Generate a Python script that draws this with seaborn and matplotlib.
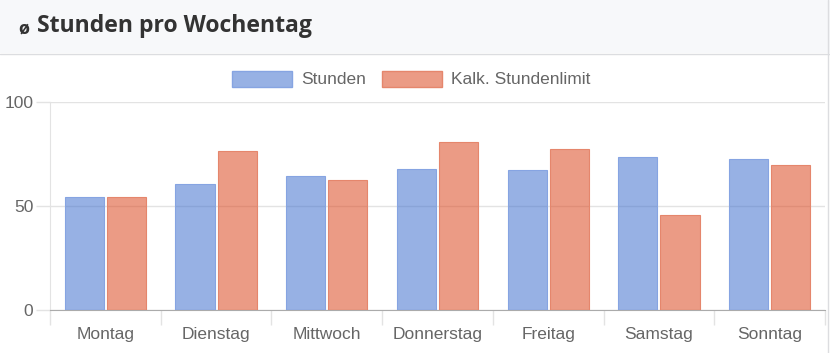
from matplotlib import pyplot as plt
from matplotlib.patches import Rectangle
from matplotlib.lines import Line2D
import numpy as np
import pandas
import seaborn as sns

# data
days = ["Montag", "Dienstag", "Mittwoch", "Donnerstag", "Freitag", "Samstag", "Sonntag"]
stunden = [54.2, 60.4, 64.4, 67.8, 67.3, 73.4, 72.4]
stundenlimit = [54.2, 76.3, 62.5, 80.8, 77.3, 45.5, 69.6]
series_names = ["Stunden", "Kalk. Stundenlimit"]
y_ticks = [0, 50, 100]

dataframe = pandas.DataFrame({
    "Tag": days * 2,
    "Wert": stunden + stundenlimit,
    "Serie": [series_names[0]] * len(days) + [series_names[1]] * len(days),
})

fill_colors = [(66/255, 113/255, 206/255, 0.55), (220/255, 73/255, 33/255, 0.55)]
edge_colors = ["#86a4e2", "#e5866c"]

sns.set_style("white")
plt.rcParams['font.family'] = ['Liberation Sans', 'DejaVu Sans']

fig = plt.figure(figsize=(8.3, 3.53), dpi=100)
W, H = 830, 353

# header band
fig.patches.append(Rectangle((0, 1 - 53/H), 1, 53/H, transform=fig.transFigure,
                             facecolor="#f7f8fa", edgecolor="none", zorder=0))
fig.lines.append(Line2D([0, 1], [1 - 53.5/H, 1 - 53.5/H], transform=fig.transFigure,
                        color="#dcdde0", lw=1))
fig.lines.append(Line2D([827.5/W, 827.5/W], [0, 1], transform=fig.transFigure,
                        color="#dcdde0", lw=1))
fig.text(18/W, 1 - 29/H, "ø", fontsize=13, fontweight="bold", color="#333333",
         va="center", ha="left", family=["Open Sans", "DejaVu Sans"])
fig.text(37/W, 1 - 26.5/H, "Stunden pro Wochentag", fontsize=16.6, fontweight="bold",
         color="#333333", va="center", ha="left", family=["Open Sans", "DejaVu Sans"])

ax = fig.add_axes([50/W, 1 - 310/H, 775/W, 208/H])
g = sns.barplot(data=dataframe, x="Tag", y="Wert", hue="Serie", ax=ax,
                palette=fill_colors, saturation=1, width=0.76, gap=0.07, legend=False,
                linewidth=0.8, zorder=3)
for container, fc, ec in zip(ax.containers, fill_colors, edge_colors):
    for bar in container:
        bar.set_facecolor(fc)
        bar.set_edgecolor(ec)

ax.set_ylim(0, 100)
ax.set_xlim(-0.5, len(days) - 0.5)
ax.set_yticks(y_ticks)
ax.set_yticklabels([str(v) for v in y_ticks])
ax.yaxis.grid(True, color="#e3e3e3", lw=1, zorder=0)
ax.set_axisbelow(True)
ax.set_xlabel("")
ax.set_ylabel("")

ax.tick_params(axis="y", length=10, width=1, color="#e3e3e3", pad=2,
               labelsize=12.5, labelcolor="#666666", left=True)
ax.tick_params(axis="x", which="major", length=0, pad=12.5,
               labelsize=12.5, labelcolor="#666666")
ax.set_xticks(np.arange(-0.5, len(days)), minor=True)
ax.tick_params(axis="x", which="minor", length=10.5, width=1, color="#e3e3e3", bottom=True)

for side in ["top", "right"]:
    ax.spines[side].set_visible(False)
ax.spines["left"].set_color("#e3e3e3")
ax.spines["bottom"].set_color("#ababab")

handles = [Rectangle((0, 0), 1, 1, facecolor=fc, edgecolor=ec, lw=1)
           for fc, ec in zip(fill_colors, edge_colors)]
fig.legend(handles, series_names, loc="center", bbox_to_anchor=(411/W, 1 - 79/H),
           ncol=2, frameon=False, fontsize=12.5, labelcolor="#666666",
           handlelength=3.5, handleheight=1.05, handletextpad=0.5, columnspacing=0.9)

fig.savefig("out.png", dpi=100)
